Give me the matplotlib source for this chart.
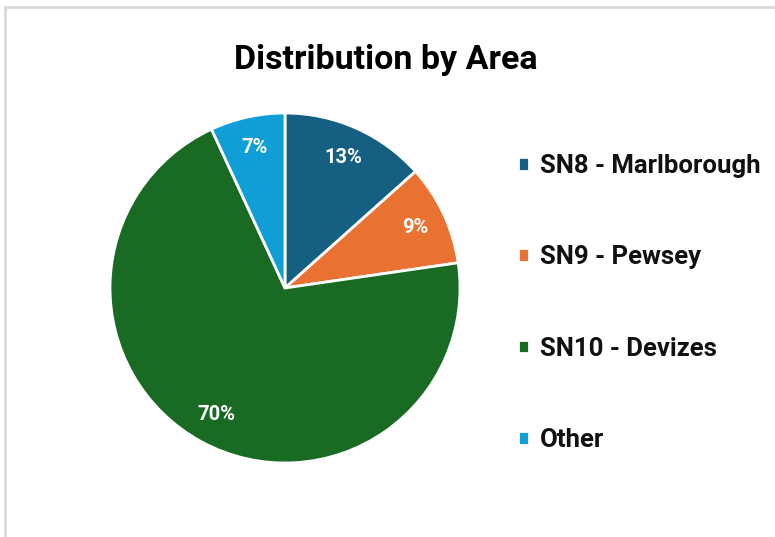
import matplotlib
matplotlib.use("Agg")
from matplotlib import pyplot as plt
from matplotlib.patches import Rectangle

plt.rcParams['font.family'] = ['Roboto', 'DejaVu Sans']

areas = ["SN8 - Marlborough", "SN9 - Pewsey", "SN10 - Devizes", "Other"]
shares = [13.4, 9.3, 70.4, 6.9]
colours = ["#156082", "#E97132", "#196B24", "#0F9ED5"]

W, H = 775, 537
fig = plt.figure(figsize=(W/100, H/100), dpi=100)

# light grey chart border (only top/left visible in the crop)
fig.patches.append(Rectangle((5/W, -0.1), 1.2, 1.1 - 7/H, transform=fig.transFigure,
                             fill=False, edgecolor="#D9D9D9", linewidth=2))

# pie centre ~ (285, 288) px, radius ~175 px
cx, cy, r = 285, 288, 175
ax = fig.add_axes([(cx - r)/W, (H - cy - r)/H, 2*r/W, 2*r/H])
wedges, texts, autotexts = ax.pie(
    shares, colors=colours, startangle=90, counterclock=False,
    autopct=lambda p: "%d%%" % round(p), pctdistance=0.82,
    wedgeprops=dict(edgecolor="white", linewidth=2),
    textprops=dict(color="white", fontsize=14.5, fontweight="bold"))
ax.set_xlim(-1, 1)
ax.set_ylim(-1, 1)
ax.set_aspect("auto")
ax.axis("off")

fig.text(386/W, 1 - 60/H, "Distribution by Area", ha="center", va="center",
         fontsize=24.5, fontweight="bold", color="black")

leg = fig.legend(wedges, areas, loc="upper left", bbox_to_anchor=(518/W, 1 - 154/H),
                 frameon=False, prop=dict(weight="bold", size=18.5),
                 borderpad=0, borderaxespad=0,
                 handlelength=0.43, handleheight=0.43, handletextpad=0.42,
                 labelspacing=2.62)
for t in leg.get_texts():
    t.set_color("#111111")

fig.savefig("out.png", dpi=100)
